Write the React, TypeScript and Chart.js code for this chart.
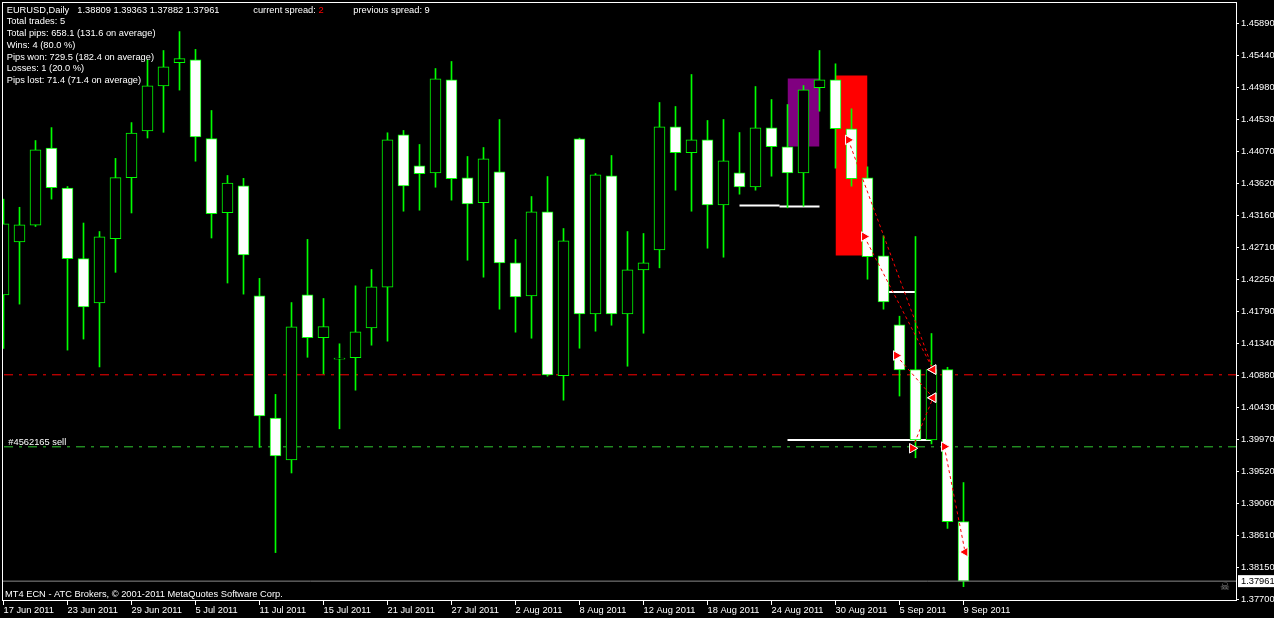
import React, { useEffect, useRef } from "react";
import { Chart, registerables } from "chart.js";

Chart.register(...registerables);

// ---------- data ----------
const dates = [
  "17 Jun 2011", "20 Jun 2011", "21 Jun 2011", "22 Jun 2011", "23 Jun 2011", "24 Jun 2011", "27 Jun 2011", "28 Jun 2011", "29 Jun 2011", "30 Jun 2011",
  "1 Jul 2011", "4 Jul 2011", "5 Jul 2011", "6 Jul 2011", "7 Jul 2011", "8 Jul 2011", "11 Jul 2011", "12 Jul 2011", "13 Jul 2011", "14 Jul 2011",
  "15 Jul 2011", "18 Jul 2011", "19 Jul 2011", "20 Jul 2011", "21 Jul 2011", "22 Jul 2011", "25 Jul 2011", "26 Jul 2011", "27 Jul 2011", "28 Jul 2011",
  "29 Jul 2011", "1 Aug 2011", "2 Aug 2011", "3 Aug 2011", "4 Aug 2011", "5 Aug 2011", "8 Aug 2011", "9 Aug 2011", "10 Aug 2011", "11 Aug 2011",
  "12 Aug 2011", "15 Aug 2011", "16 Aug 2011", "17 Aug 2011", "18 Aug 2011", "19 Aug 2011", "22 Aug 2011", "23 Aug 2011", "24 Aug 2011", "25 Aug 2011",
  "26 Aug 2011", "29 Aug 2011", "30 Aug 2011", "31 Aug 2011", "1 Sep 2011", "2 Sep 2011", "5 Sep 2011", "6 Sep 2011", "7 Sep 2011", "8 Sep 2011",
  "9 Sep 2011",
];

const opens = [
  1.42032, 1.42785, 1.43023, 1.44120, 1.43551, 1.42546, 1.41916, 1.42830, 1.43699, 1.44363,
  1.45003, 1.45334, 1.45374, 1.44252, 1.43201, 1.43581, 1.42017, 1.40281, 1.39686, 1.42032,
  1.41422, 1.41117, 1.41137, 1.41563, 1.42140, 1.44307, 1.43867, 1.43767, 1.45090, 1.43696,
  1.43341, 1.43781, 1.42487, 1.42018, 1.43213, 1.40881, 1.44251, 1.41762, 1.43724, 1.41762,
  1.42388, 1.42672, 1.44421, 1.44052, 1.44236, 1.43312, 1.43767, 1.43568, 1.44407, 1.44137,
  1.43767, 1.44976, 1.45090, 1.44393, 1.43696, 1.42587, 1.41607, 1.40969, 1.39969, 1.40969,
  1.38809,
];
const highs = [
  1.43393, 1.43277, 1.44226, 1.44410, 1.43572, 1.43053, 1.42932, 1.43972, 1.44481, 1.45374,
  1.45506, 1.45775, 1.45522, 1.44653, 1.43729, 1.43688, 1.42266, 1.40616, 1.41922, 1.42820,
  1.41980, 1.41336, 1.42160, 1.42392, 1.44336, 1.44369, 1.44170, 1.45250, 1.45350, 1.43999,
  1.44127, 1.44525, 1.42819, 1.43430, 1.43714, 1.42975, 1.44260, 1.43757, 1.44013, 1.42932,
  1.42904, 1.44767, 1.44710, 1.45165, 1.44511, 1.44525, 1.44340, 1.44994, 1.44809, 1.44738,
  1.45008, 1.45506, 1.45317, 1.44677, 1.43852, 1.42871, 1.41728, 1.42861, 1.41482, 1.41002,
  1.39363,
];
const lows = [
  1.41270, 1.41900, 1.43004, 1.43393, 1.41246, 1.41403, 1.41007, 1.42352, 1.43196, 1.44262,
  1.44343, 1.44943, 1.43932, 1.42840, 1.42200, 1.42042, 1.39864, 1.38367, 1.39499, 1.41144,
  1.40909, 1.40127, 1.40676, 1.41316, 1.41373, 1.43221, 1.43235, 1.43562, 1.43378, 1.42524,
  1.42283, 1.41828, 1.41501, 1.41415, 1.40875, 1.40534, 1.41273, 1.41515, 1.41600, 1.41017,
  1.41486, 1.42416, 1.43520, 1.43221, 1.42695, 1.42567, 1.43463, 1.43520, 1.43719, 1.43269,
  1.43292, 1.44643, 1.43833, 1.43577, 1.42254, 1.41828, 1.40593, 1.39715, 1.39912, 1.38711,
  1.37882,
];
const closes = [
  1.43043, 1.43028, 1.44094, 1.43557, 1.42546, 1.41860, 1.42856, 1.43699, 1.44333, 1.45003,
  1.45273, 1.45390, 1.44278, 1.43186, 1.43622, 1.42601, 1.40311, 1.39742, 1.41576, 1.41424,
  1.41579, 1.41131, 1.41506, 1.42146, 1.44236, 1.43582, 1.43753, 1.45104, 1.43682, 1.43326,
  1.43966, 1.42487, 1.42004, 1.43213, 1.40895, 1.42800, 1.41762, 1.43739, 1.41762, 1.42388,
  1.42487, 1.44421, 1.44052, 1.44236, 1.43312, 1.43938, 1.43568, 1.44407, 1.44137, 1.43767,
  1.44947, 1.45090, 1.44393, 1.43682, 1.42573, 1.41933, 1.40963, 1.39969, 1.40969, 1.38808,
  1.37961,
];

const yTickValues = [
  1.4589, 1.4544, 1.4498, 1.4453, 1.4407, 1.4362, 1.4316, 1.4271, 1.4225, 1.4179,
  1.4134, 1.4088, 1.4043, 1.3997, 1.3952, 1.3906, 1.3861, 1.3815, 1.377,
];
const xTickIndices = [0, 4, 8, 12, 16, 20, 24, 28, 32, 36, 40, 44, 48, 52, 56, 60];

// shaded rectangles (bar index range, price range)
const rectStart = [49, 52];
const rectEnd = [51, 54];
const rectTop = [1.45108, 1.45151];
const rectBottom = [1.44141, 1.42591];
const rectColors = ["#800080", "#ff0000"];

// horizontal dash-dot levels
const levelPrices = [1.40895, 1.39871];
const levelColors = ["#ff0000", "#32cd32"];

// white horizontal segments
const whiteStart = [46, 48.5, 55.3, 49];
const whiteEnd = [48.5, 51, 57, 58];
const whitePrice = [1.43302, 1.43288, 1.42072, 1.39969];

// trades: open -> close
const tradeOpenX = [52.8, 53.8, 55.8, 56.8, 58.8];
const tradeOpenPrice = [1.44235, 1.42861, 1.41169, 1.3985, 1.39874];
const tradeCloseX = [58.1, 58.1, 58.1, 58.1, 60.1];
const tradeClosePrice = [1.40969, 1.40969, 1.40569, 1.40569, 1.38375];

const bidPrice = 1.37961;

const statsLines = [
  "Total trades: 5",
  "Total pips: 658.1 (131.6 on average)",
  "Wins: 4 (80.0 %)",
  "Pips won: 729.5 (182.4 on average)",
  "Losses: 1 (20.0 %)",
  "Pips lost: 71.4 (71.4 on average)",
];

// axis ranges
const yMin = 1.376787;
const yMax = 1.461957;
const xMin = -0.09375;
const xMax = 77.03125;

const FONT = '"Liberation Sans", Arial, sans-serif';
const FS = 9.3;

const overlayPlugin = {
  id: "mt4overlay",
  beforeDraw(chart: any) {
    const ctx = chart.ctx;
    ctx.save();
    ctx.fillStyle = "#000";
    ctx.fillRect(0, 0, chart.width, chart.height);
    ctx.restore();
  },
  afterDraw(chart: any) {
    const ctx = chart.ctx;
    const { left, top, right, bottom } = chart.chartArea;
    ctx.save();
    // frame
    ctx.strokeStyle = "#ffffff";
    ctx.lineWidth = 1;
    ctx.strokeRect(left + 0.5, top + 0.5, right - left, bottom - top - 1);

    ctx.font = `${FS}px ${FONT}`;
    ctx.textBaseline = "alphabetic";
    ctx.textAlign = "left";
    ctx.fillStyle = "#ffffff";
    const last = opens.length - 1;
    ctx.fillText("EURUSD,Daily", 6.7, 13.3);
    ctx.fillText(
      [opens[last], highs[last], lows[last], closes[last]].map((v) => v.toFixed(5)).join(" "),
      77.3,
      13.3
    );
    ctx.fillText("current spread: ", 253.3, 13.3);
    const w = ctx.measureText("current spread: ").width;
    ctx.fillStyle = "#ff0000";
    ctx.fillText("2", 253.3 + w, 13.3);
    ctx.fillStyle = "#ffffff";
    ctx.fillText("previous spread: 9", 353.3, 13.3);
    statsLines.forEach((s, i) => ctx.fillText(s, 6.7, 24 + 11.85 * i));

    const yGreen = chart.scales.y.getPixelForValue(levelPrices[1]);
    ctx.fillText("#4562165 sell", 8.3, yGreen - 2);
    ctx.fillText("MT4 ECN - ATC Brokers, \u00A9 2001-2011 MetaQuotes Software Corp.", 5, 596.5);

    // bid price box
    const yb = chart.scales.y.getPixelForValue(bidPrice);
    ctx.fillStyle = "#ffffff";
    ctx.fillRect(right + 2, yb - 6, chart.width - right - 2, 12);
    ctx.fillStyle = "#000000";
    ctx.textBaseline = "middle";
    ctx.fillText(bidPrice.toFixed(5), right + 5, yb + 0.5);

    // small gray icon
    ctx.fillStyle = "#8a8a8a";
    ctx.font = `11px "DejaVu Sans", sans-serif`;
    ctx.textAlign = "center";
    ctx.fillText("\u2620", right - 11, yb + 6);
    ctx.restore();
  },
};

function zeroPadding(scale: any) {
  scale.paddingLeft = 0;
  scale.paddingRight = 0;
  scale.paddingTop = 0;
  scale.paddingBottom = 0;
}

export default function App() {
  const ref = useRef<HTMLCanvasElement | null>(null);

  useEffect(() => {
    const canvas = ref.current;
    if (!canvas) return;

    const datasets: any[] = [];

    rectStart.forEach((s, i) => {
      datasets.push({
        type: "line",
        data: [
          { x: s, y: rectTop[i] },
          { x: rectEnd[i], y: rectTop[i] },
        ],
        fill: { value: rectBottom[i] },
        backgroundColor: rectColors[i],
        borderWidth: 0,
        borderColor: "rgba(0,0,0,0)",
        pointRadius: 0,
        order: 10,
      });
    });

    levelPrices.forEach((p, i) => {
      datasets.push({
        type: "line",
        data: [
          { x: xMin, y: p },
          { x: xMax, y: p },
        ],
        borderColor: levelColors[i],
        borderWidth: 1,
        borderDash: [9, 6, 3, 6],
        borderDashOffset: -2,
        pointRadius: 0,
        fill: false,
        order: 8,
      });
    });

    whiteStart.forEach((s, i) => {
      datasets.push({
        type: "line",
        data: [
          { x: s, y: whitePrice[i] },
          { x: whiteEnd[i], y: whitePrice[i] },
        ],
        borderColor: "#ffffff",
        borderWidth: 2,
        pointRadius: 0,
        fill: false,
        order: 8,
      });
    });

    datasets.push({
      type: "bar",
      data: highs.map((h, i) => ({ x: i, y: [lows[i], h] })),
      backgroundColor: "#00ff00",
      borderWidth: 0,
      barThickness: 1,
      grouped: false,
      order: 6,
    });

    datasets.push({
      type: "bar",
      data: opens.map((o, i) => ({ x: i, y: [o, closes[i]] })),
      backgroundColor: opens.map((o, i) => (closes[i] < o ? "#ffffff" : "#000000")),
      borderColor: "#00ff00",
      borderWidth: 1,
      borderSkipped: false,
      barThickness: 11,
      grouped: false,
      order: 5,
    });

    datasets.push({
      type: "line",
      data: [
        { x: xMin, y: bidPrice },
        { x: xMax, y: bidPrice },
      ],
      borderColor: "#8a8a8a",
      borderWidth: 1,
      pointRadius: 0,
      fill: false,
      order: 4,
    });

    tradeOpenX.forEach((x, i) => {
      datasets.push({
        type: "line",
        data: [
          { x, y: tradeOpenPrice[i] },
          { x: tradeCloseX[i], y: tradeClosePrice[i] },
        ],
        borderColor: "#ff0000",
        borderWidth: 1,
        borderDash: [3, 3],
        pointRadius: 0,
        fill: false,
        order: 2,
      });
    });

    datasets.push({
      type: "line",
      showLine: false,
      data: tradeOpenX.map((x, i) => ({ x, y: tradeOpenPrice[i] })),
      pointStyle: "triangle",
      rotation: 90,
      pointRadius: 5.5,
      pointBackgroundColor: "#ff0000",
      pointBorderColor: "#ffffff",
      pointBorderWidth: 1,
      order: 1,
    });
    datasets.push({
      type: "line",
      showLine: false,
      data: tradeCloseX.map((x, i) => ({ x, y: tradeClosePrice[i] })),
      pointStyle: "triangle",
      rotation: -90,
      pointRadius: 5.5,
      pointBackgroundColor: "#ff0000",
      pointBorderColor: "#ffffff",
      pointBorderWidth: 1,
      order: 1,
    });

    const chart = new Chart(canvas, {
      type: "bar",
      data: { datasets },
      plugins: [overlayPlugin],
      options: {
        responsive: false,
        maintainAspectRatio: false,
        animation: false,
        devicePixelRatio: 1,
        layout: { autoPadding: false, padding: { left: 2, top: 2, right: 0, bottom: 0 } },
        plugins: { legend: { display: false }, tooltip: { enabled: false } },
        scales: {
          x: {
            type: "linear",
            min: xMin,
            max: xMax,
            offset: false,
            afterBuildTicks: (scale: any) => {
              scale.ticks = xTickIndices.map((v) => ({ value: v }));
            },
            afterFit: (scale: any) => {
              scale.height = 17;
              zeroPadding(scale);
            },
            grid: {
              display: true,
              offset: false,
              drawOnChartArea: false,
              drawTicks: true,
              tickLength: 4,
              tickColor: "#ffffff",
              color: "#ffffff",
            },
            border: { display: false },
            ticks: {
              autoSkip: false,
              maxRotation: 0,
              minRotation: 0,
              align: "start",
              padding: 0,
              color: "#ffffff",
              font: { family: FONT, size: FS },
              callback: (v: any) => dates[Math.round(Number(v))] ?? "",
            },
          },
          y: {
            type: "linear",
            position: "right",
            min: yMin,
            max: yMax,
            afterBuildTicks: (scale: any) => {
              scale.ticks = yTickValues.map((v) => ({ value: v }));
            },
            afterFit: (scale: any) => {
              scale.width = 38;
              zeroPadding(scale);
            },
            grid: {
              display: true,
              drawOnChartArea: false,
              drawTicks: true,
              tickLength: 3,
              tickColor: "#ffffff",
              color: "#ffffff",
            },
            border: { display: false },
            ticks: {
              autoSkip: false,
              padding: 2,
              color: "#ffffff",
              font: { family: FONT, size: FS },
              callback: (v: any) => Number(v).toFixed(5),
            },
          },
        },
      } as any,
    } as any);

    return () => chart.destroy();
  }, []);

  return (
    <div style={{ position: "fixed", left: 0, top: 0, width: 1274, height: 618, background: "#000" }}>
      <canvas ref={ref} width={1274} height={618} style={{ display: "block" }} />
    </div>
  );
}
